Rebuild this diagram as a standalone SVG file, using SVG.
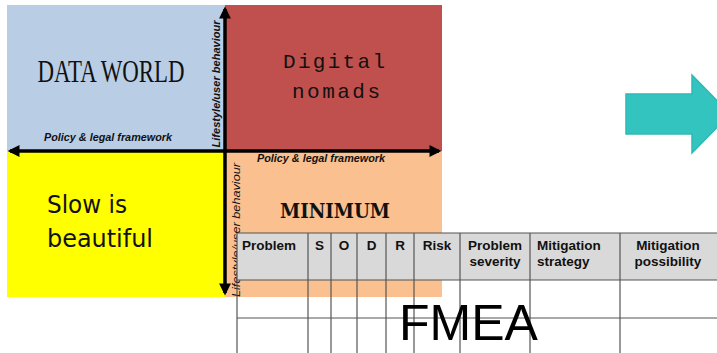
<svg xmlns="http://www.w3.org/2000/svg" width="717" height="353" viewBox="0 0 717 353">
<style>
.axislbl{font-family:"Liberation Sans",Arial,sans-serif;font-style:italic;font-weight:bold;font-size:10px;fill:#111}
.hdr{font-family:"Liberation Sans",Arial,sans-serif;font-weight:bold;font-size:13.5px;fill:#111}
.grid{stroke:#555;stroke-width:1.2;fill:none}
.axis{stroke:#000;stroke-width:3.5;fill:none}
</style>
<defs>
<marker id="ah" viewBox="0 0 10 10" refX="8" refY="5" markerWidth="4" markerHeight="3.4" orient="auto-start-reverse" markerUnits="strokeWidth">
<path d="M0,0 L10,5 L0,10 z" fill="#000"/>
</marker>
</defs>
<rect width="717" height="353" fill="#fff"/>
<g id="data-world">
<rect x="7" y="5" width="218" height="146" fill="#b9cde5"/>
<text x="111" y="82" text-anchor="middle" font-family="Liberation Serif,serif" font-size="32" textLength="147" lengthAdjust="spacingAndGlyphs" fill="#111">DATA WORLD</text>
</g>
<g id="digital-nomads">
<rect x="225" y="5" width="217" height="146" fill="#c0504d"/>
<text x="334" y="68" text-anchor="middle" font-family="Liberation Mono,monospace" font-size="21" textLength="102" lengthAdjust="spacing" fill="#111">Digital</text>
<text x="336" y="98" text-anchor="middle" font-family="Liberation Mono,monospace" font-size="21" textLength="88" lengthAdjust="spacing" fill="#111">nomads</text>
</g>
<g id="slow-is-beautiful">
<rect x="7" y="151" width="218" height="146" fill="#ffff00"/>
<text x="47" y="213" font-family="DejaVu Sans,sans-serif" font-size="25" textLength="80" lengthAdjust="spacingAndGlyphs" fill="#111">Slow is</text>
<text x="47" y="247" font-family="DejaVu Sans,sans-serif" font-size="25" textLength="106" lengthAdjust="spacingAndGlyphs" fill="#111">beautiful</text>
</g>
<g id="minimum-carbon">
<rect x="225" y="151" width="217" height="146" fill="#fac090"/>
<text x="335" y="218" text-anchor="middle" font-family="DejaVu Serif,serif" font-weight="bold" font-size="21" textLength="110" lengthAdjust="spacingAndGlyphs" fill="#111">MINIMUM</text>
</g>
<g id="connectors">
<line class="axis" x1="225" y1="293" x2="225" y2="9" marker-start="url(#ah)" marker-end="url(#ah)"/>
<line class="axis" x1="10" y1="151" x2="439" y2="151" marker-start="url(#ah)" marker-end="url(#ah)"/>
</g>
<g id="axis-labels">
<text class="axislbl" x="108" y="141" text-anchor="middle" textLength="128" lengthAdjust="spacingAndGlyphs">Policy &amp; legal framework</text>
<text class="axislbl" x="321" y="162" text-anchor="middle" textLength="128" lengthAdjust="spacingAndGlyphs">Policy &amp; legal framework</text>
<text class="axislbl" transform="translate(220,84) rotate(-90)" text-anchor="middle" textLength="127" lengthAdjust="spacingAndGlyphs">Lifestyle/user behaviour</text>
<text class="axislbl" style="font-weight:normal" transform="translate(240,230) rotate(-90)" text-anchor="middle" textLength="134" lengthAdjust="spacingAndGlyphs">Lifestyle/user behaviour</text>
</g>
<g id="fmea-table">
<rect x="237" y="233" width="480" height="47" fill="#d9d9d9"/>
<line class="grid" x1="237" y1="233" x2="717" y2="233"/>
<line class="grid" x1="237" y1="280" x2="717" y2="280"/>
<line class="grid" x1="237" y1="318" x2="717" y2="318"/>
<line class="grid" x1="237" y1="233" x2="237" y2="353"/>
<line class="grid" x1="308" y1="233" x2="308" y2="353"/>
<line class="grid" x1="331" y1="233" x2="331" y2="353"/>
<line class="grid" x1="357" y1="233" x2="357" y2="353"/>
<line class="grid" x1="386" y1="233" x2="386" y2="353"/>
<line class="grid" x1="414" y1="233" x2="414" y2="353"/>
<line class="grid" x1="460" y1="233" x2="460" y2="353"/>
<line class="grid" x1="530" y1="233" x2="530" y2="353"/>
<line class="grid" x1="620" y1="233" x2="620" y2="353"/>
<text class="hdr" x="242" y="250">Problem</text>
<text class="hdr" x="319.5" y="250" text-anchor="middle">S</text>
<text class="hdr" x="344" y="250" text-anchor="middle">O</text>
<text class="hdr" x="371.5" y="250" text-anchor="middle">D</text>
<text class="hdr" x="400" y="250" text-anchor="middle">R</text>
<text class="hdr" x="437" y="250" text-anchor="middle">Risk</text>
<text class="hdr" x="495" y="250" text-anchor="middle">Problem</text>
<text class="hdr" x="495" y="266" text-anchor="middle">severity</text>
<text class="hdr" x="537" y="250">Mitigation</text>
<text class="hdr" x="537" y="266">strategy</text>
<text class="hdr" x="668" y="250" text-anchor="middle">Mitigation</text>
<text class="hdr" x="668" y="266" text-anchor="middle">possibility</text>
</g>
<g id="fmea-label">
<text x="399" y="340" font-family="Liberation Sans,Arial,sans-serif" font-size="50" fill="#000">FMEA</text>
</g>
<g id="teal-arrow">
<polygon points="626,94 692,94 692,75 730,114 692,153 692,134 626,134" fill="#33c4c0" stroke="#2db9b5" stroke-width="1.5"/>
</g>
</svg>
